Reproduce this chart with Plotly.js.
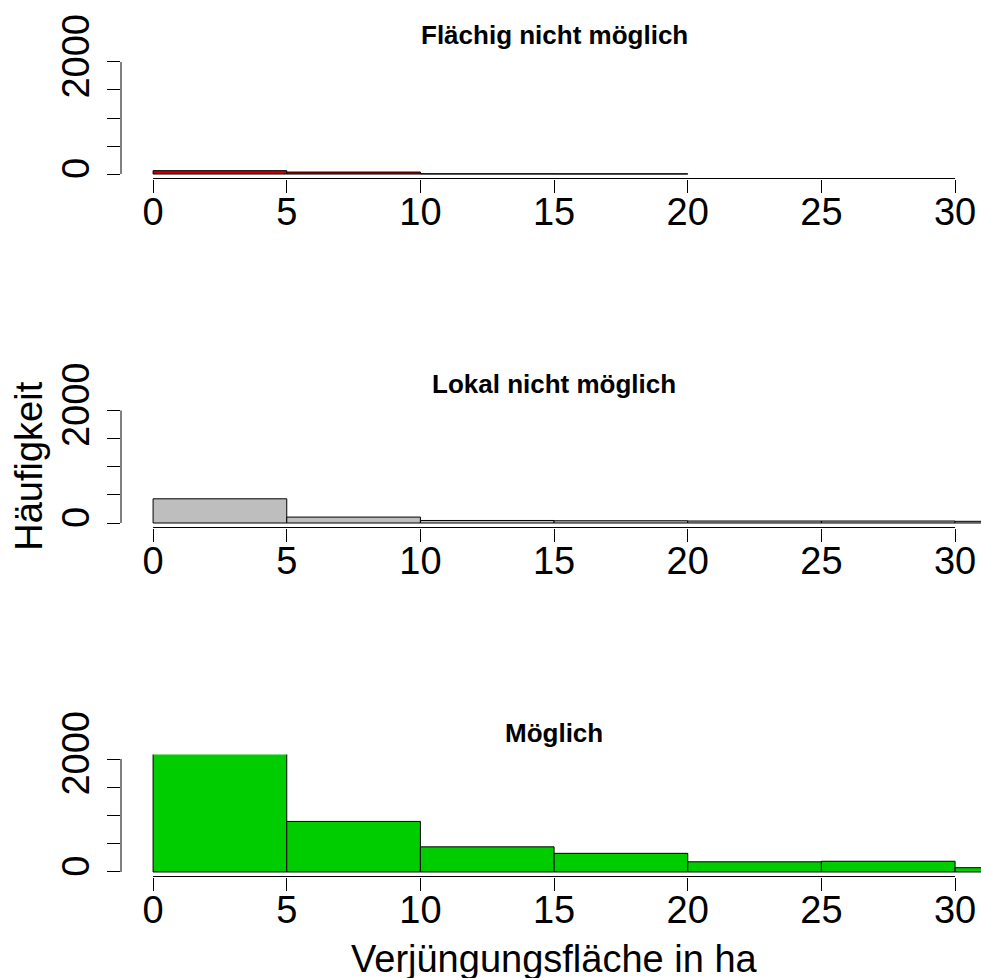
<!DOCTYPE html>
<html>
<head>
<meta charset="utf-8">
<script src="https://cdn.plot.ly/plotly-3.0.1.min.js"></script>
<style>html,body{margin:0;padding:0;background:#fff;}#chart{width:981px;height:978px;}</style>
</head>
<body>
<div id="chart"></div>
<script>
// Bin centres of the 5-ha histogram classes
const binCenters = [2.5, 7.5, 12.5, 17.5, 22.5, 27.5, 32.5];
// Counts per class
const flaechigCounts = [60, 35, 4, 3];
const lokalCounts = [430, 105, 45, 40, 35, 35, 30];
const moeglichCounts = [2700, 895, 445, 330, 180, 190, 76];
const panelTitles = ["Flächig nicht möglich", "Lokal nicht möglich", "Möglich"];
const xTickVals = [0, 5, 10, 15, 20, 25, 30];
const xTickText = ["0", "5", "10", "15", "20", "25", "30"];
const yTickVals = [0, 500, 1000, 1500, 2000];
const yTickText = ["0", "", "", "", "2000"];
const xLabel = "Verjüngungsfläche in ha";
const yLabel = "Häufigkeit";

const FONT = "Liberation Sans, Arial, sans-serif";
const colors = ["#CD0000", "#BEBEBE", "#00CD00"];
const series = [flaechigCounts, lokalCounts, moeglichCounts];

const W = 981, H = 978;
// plot-region pixel extents (top, bottom) of each panel
const panelPx = [[57.5, 178.5], [406, 527.5], [754.5, 876.5]];
const leftPx = 121;

const traces = series.map((vals, i) => ({
  type: "bar",
  x: binCenters.slice(0, vals.length),
  y: vals,
  width: 5,
  xaxis: i === 0 ? "x" : "x" + (i + 1),
  yaxis: i === 0 ? "y" : "y" + (i + 1),
  marker: {color: colors[i], line: {color: "#000", width: 1}},
  hoverinfo: "skip"
}));

const layout = {
  width: W, height: H,
  margin: {l: 0, r: 0, t: 0, b: 0, pad: 0},
  paper_bgcolor: "#fff", plot_bgcolor: "#fff",
  showlegend: false,
  font: {family: FONT, color: "#000"},
  shapes: [], annotations: []
};

panelPx.forEach((p, i) => {
  const sfx = i === 0 ? "" : String(i + 1);
  layout["xaxis" + sfx] = {
    domain: [leftPx / W, 1],
    range: [-1.2, -1.2 + (W - leftPx) / ((955 - 153) / 30)],
    anchor: "y" + sfx,
    tickvals: xTickVals, ticktext: xTickText,
    ticks: "outside", ticklen: 13, tickwidth: 1, tickcolor: "#000",
    showline: false, showgrid: false, zeroline: false,
    tickfont: {family: FONT, size: 38, color: "#000"},
    ticklabelstandoff: -13,
    fixedrange: true
  };
  layout["yaxis" + sfx] = {
    domain: [1 - p[1] / H, 1 - p[0] / H],
    range: [-80, 2080],
    anchor: "x" + sfx,
    tickvals: yTickVals, ticktext: yTickText,
    ticks: "outside", ticklen: 13, tickwidth: 1, tickcolor: "#000",
    tickangle: -90,
    showline: false, showgrid: false, zeroline: false,
    tickfont: {family: FONT, size: 38, color: "#000"},
    ticklabelstandoff: 3,
    fixedrange: true
  };
  const xr = "x" + sfx, yr = "y" + sfx;
  // R-style axis lines spanning first to last tick
  layout.shapes.push({type: "line", xref: xr, yref: yr + " domain",
    x0: xTickVals[0], x1: xTickVals[xTickVals.length - 1], y0: 0, y1: 0,
    line: {color: "#000", width: 1}});
  layout.shapes.push({type: "line", xref: xr + " domain", yref: yr,
    x0: 0, x1: 0, y0: yTickVals[0], y1: yTickVals[yTickVals.length - 1],
    line: {color: "#000", width: 1}});
  layout.annotations.push({text: "<b>" + panelTitles[i] + "</b>", xref: xr, yref: yr + " domain",
    x: 15, y: 1, xanchor: "center", yanchor: "bottom", yshift: 5, showarrow: false,
    font: {family: FONT, size: 26, color: "#000"}});
});

layout.annotations.push({text: xLabel, xref: "x3", yref: "y3 domain", x: 15, y: 0,
  xanchor: "center", yanchor: "top", yshift: -59, showarrow: false,
  font: {family: FONT, size: 38, color: "#000"}});
layout.annotations.push({text: yLabel, xref: "paper", yref: "y2 domain", x: 52 / W, y: 0.5,
  xanchor: "right", yanchor: "middle", textangle: -90, showarrow: false,
  font: {family: FONT, size: 38, color: "#000"}});

Plotly.newPlot("chart", traces, layout, {staticPlot: true, displayModeBar: false});
</script>
</body>
</html>
